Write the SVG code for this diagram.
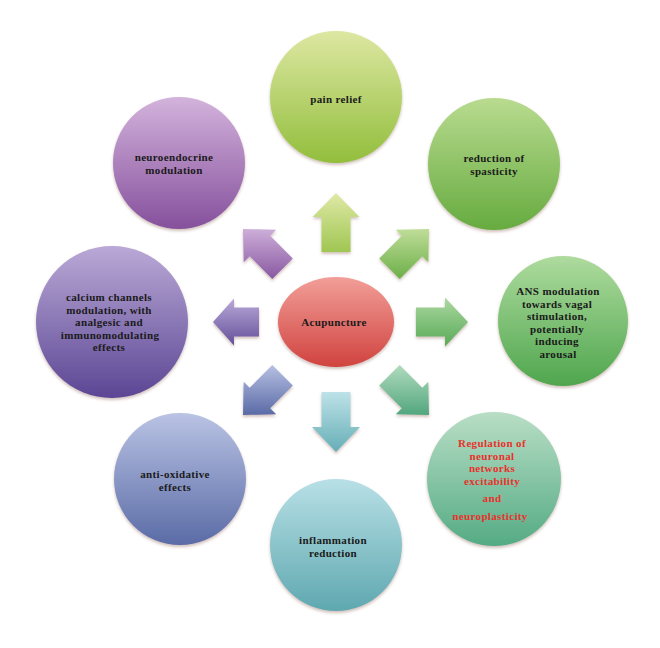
<svg xmlns="http://www.w3.org/2000/svg" width="660" height="648" viewBox="0 0 660 648">
<defs>
<filter id="sh" x="-10%" y="-10%" width="120%" height="125%">
<feDropShadow dx="0" dy="2" stdDeviation="1.5" flood-color="#7a4a3a" flood-opacity="0.35"/>
</filter>
<linearGradient id="gAcu" x1="0" y1="0" x2="0" y2="1"><stop offset="0" stop-color="#f29e98"/><stop offset="1" stop-color="#d0433f"/></linearGradient>
<linearGradient id="gPain" x1="0" y1="0" x2="0" y2="1"><stop offset="0" stop-color="#dde7a2"/><stop offset="1" stop-color="#92be3c"/></linearGradient>
<linearGradient id="gSpas" x1="0" y1="0" x2="0" y2="1"><stop offset="0" stop-color="#b9db8f"/><stop offset="1" stop-color="#66ab40"/></linearGradient>
<linearGradient id="gAns" x1="0" y1="0" x2="0" y2="1"><stop offset="0" stop-color="#aedb9e"/><stop offset="1" stop-color="#4fa64e"/></linearGradient>
<linearGradient id="gReg" x1="0" y1="0" x2="0" y2="1"><stop offset="0" stop-color="#b9dec6"/><stop offset="1" stop-color="#54ab84"/></linearGradient>
<linearGradient id="gInf" x1="0" y1="0" x2="0" y2="1"><stop offset="0" stop-color="#b8e0e6"/><stop offset="1" stop-color="#5fa8b0"/></linearGradient>
<linearGradient id="gOx" x1="0" y1="0" x2="0" y2="1"><stop offset="0" stop-color="#bac3e4"/><stop offset="1" stop-color="#5a6ba6"/></linearGradient>
<linearGradient id="gCal" x1="0" y1="0" x2="0" y2="1"><stop offset="0" stop-color="#baa9d6"/><stop offset="1" stop-color="#5b4694"/></linearGradient>
<linearGradient id="gNeu" x1="0" y1="0" x2="0" y2="1"><stop offset="0" stop-color="#d3b3dc"/><stop offset="1" stop-color="#85509c"/></linearGradient>
<linearGradient id="aUp" x1="0" y1="0" x2="0" y2="1"><stop offset="0" stop-color="#dfe9a6"/><stop offset="1" stop-color="#a0c652"/></linearGradient>
<linearGradient id="aNE" x1="0" y1="0" x2="0" y2="1"><stop offset="0" stop-color="#bfdd98"/><stop offset="1" stop-color="#6caf48"/></linearGradient>
<linearGradient id="aR" x1="0" y1="0" x2="0" y2="1"><stop offset="0" stop-color="#acd8a0"/><stop offset="1" stop-color="#58aa58"/></linearGradient>
<linearGradient id="aSE" x1="0" y1="0" x2="0" y2="1"><stop offset="0" stop-color="#b0dbbd"/><stop offset="1" stop-color="#52a67e"/></linearGradient>
<linearGradient id="aD" x1="0" y1="0" x2="0" y2="1"><stop offset="0" stop-color="#bde2e8"/><stop offset="1" stop-color="#66aeb6"/></linearGradient>
<linearGradient id="aSW" x1="0" y1="0" x2="0" y2="1"><stop offset="0" stop-color="#b6c0e2"/><stop offset="1" stop-color="#5a6aa6"/></linearGradient>
<linearGradient id="aL" x1="0" y1="0" x2="0" y2="1"><stop offset="0" stop-color="#b9a9d8"/><stop offset="1" stop-color="#63509a"/></linearGradient>
<linearGradient id="aNW" x1="0" y1="0" x2="0" y2="1"><stop offset="0" stop-color="#cdaed9"/><stop offset="1" stop-color="#8858a0"/></linearGradient>
</defs>
<style>
.t{font-family:"Liberation Serif","Times New Roman",serif;font-weight:bold;font-size:11px;letter-spacing:0.35px;fill:#1a1a1a;text-anchor:middle}
.r{fill:#e8322c}
.n{filter:url(#sh)}
</style>
<rect width="660" height="648" fill="#ffffff"/>
<g id="connectors" class="n">
<polygon fill="url(#aUp)" points="336,193 359.5,217 350.5,217 350.5,252 321.5,252 321.5,217 312.5,217"/>
<polygon fill="url(#aNE)" points="429,229 428.3,262.2 422.3,256.2 399.7,278.9 379.2,258.4 401.8,235.7 395.8,229.7"/>
<polygon fill="url(#aR)" points="468,322 445,346.5 445,336.5 416,336.5 416,307.5 445,307.5 445,297.5"/>
<polygon fill="url(#aSE)" points="429,415 428.3,381.8 422.3,387.8 399.7,365.1 379.2,385.6 401.8,408.3 395.8,414.3"/>
<polygon fill="url(#aD)" points="336,452 360,427 350.5,427 350.5,392 321.5,392 321.5,427 312,427"/>
<polygon fill="url(#aSW)" points="243,415 243.7,381.8 249.7,387.8 272.3,365.1 292.8,385.6 270.2,408.3 276.2,414.3"/>
<polygon fill="url(#aL)" points="213,322 234,298.5 234,307.5 259,307.5 259,336.5 234,336.5 234,345.5"/>
<polygon fill="url(#aNW)" points="243,229 243.7,262.2 249.7,256.2 272.3,278.9 292.8,258.4 270.2,235.7 276.2,229.7"/>
</g>
<g id="acupuncture">
<ellipse class="n" cx="336" cy="322" rx="58" ry="45" fill="url(#gAcu)"/>
<text class="t" x="334" y="326">Acupuncture</text>
</g>
<g id="pain-relief">
<circle class="n" cx="336" cy="97" r="66" fill="url(#gPain)"/>
<text class="t" x="336" y="103">pain relief</text>
</g>
<g id="spasticity">
<circle class="n" cx="494" cy="164" r="66" fill="url(#gSpas)"/>
<text class="t" x="494" y="162">reduction of</text>
<text class="t" x="494" y="175">spasticity</text>
</g>
<g id="ans">
<circle class="n" cx="563" cy="321" r="65" fill="url(#gAns)"/>
<text class="t" x="558" y="295">ANS modulation</text>
<text class="t" x="557" y="307.6">towards vagal</text>
<text class="t" x="557" y="320.2">stimulation,</text>
<text class="t" x="557" y="332.8">potentially</text>
<text class="t" x="557" y="345.4">inducing</text>
<text class="t" x="558" y="358">arousal</text>
</g>
<g id="regulation">
<circle class="n" cx="494" cy="479" r="67" fill="url(#gReg)"/>
<text class="t r" x="492" y="447">Regulation of</text>
<text class="t r" x="492" y="459.7">neuronal</text>
<text class="t r" x="492" y="472.4">networks</text>
<text class="t r" x="492" y="485.1">excitability</text>
<text class="t r" x="492" y="502">and</text>
<text class="t r" x="490" y="520">neuroplasticity</text>
</g>
<g id="inflammation">
<circle class="n" cx="336" cy="545" r="66" fill="url(#gInf)"/>
<text class="t" x="333" y="543.5">inflammation</text>
<text class="t" x="333" y="556.5">reduction</text>
</g>
<g id="anti-oxidative">
<circle class="n" cx="180" cy="479" r="66" fill="url(#gOx)"/>
<text class="t" x="175" y="478">anti-oxidative</text>
<text class="t" x="175" y="491">effects</text>
</g>
<g id="calcium">
<circle class="n" cx="112" cy="322" r="76" fill="url(#gCal)"/>
<text class="t" x="109" y="301">calcium channels</text>
<text class="t" x="109" y="313.6">modulation, with</text>
<text class="t" x="109" y="326.2">analgesic and</text>
<text class="t" x="110" y="338.8">immunomodulating</text>
<text class="t" x="109" y="351.4">effects</text>
</g>
<g id="neuroendocrine">
<circle class="n" cx="179" cy="163" r="66" fill="url(#gNeu)"/>
<text class="t" x="174" y="160.5">neuroendocrine</text>
<text class="t" x="174" y="173.5">modulation</text>
</g>
</svg>
